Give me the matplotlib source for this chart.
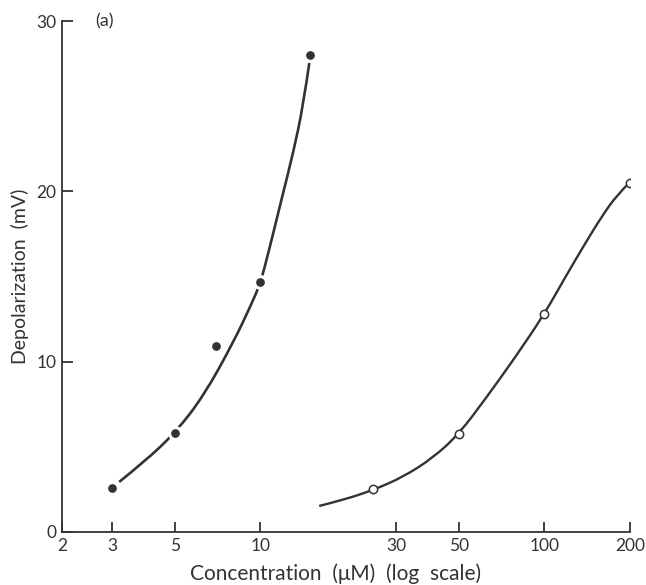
import matplotlib
matplotlib.use("Agg")
import matplotlib.pyplot as plt
from matplotlib.path import Path
from matplotlib.patches import PathPatch
import numpy as np

# Measured points: filled and open circles
filled_conc = [3, 5, 7, 10, 15]
filled_mv = [2.6, 5.8, 10.9, 14.7, 28.0]
open_conc = [25, 50, 100, 200]
open_mv = [2.5, 5.75, 12.8, 20.5]

# Hand-drawn fitted curves, traced along their length
filled_curve_conc = [3.18, 3.89, 5.0, 6.31, 8.04, 9.30, 10.0, 10.75, 11.85, 13.06, 14.15, 14.86]
filled_curve_mv = [2.94, 4.11, 5.81, 7.99, 11.16, 13.39, 14.62, 16.62, 19.5, 22.31, 25.07, 27.54]
open_curve_conc = [16.1, 19.55, 25.0, 31.8, 40.5, 50, 63.1, 79.1, 100, 117.5, 138.1, 159.7, 180.3, 198.8]
open_curve_mv = [1.53, 1.88, 2.47, 3.23, 4.35, 5.75, 7.99, 10.28, 12.8, 14.86, 16.85, 18.56, 19.79, 20.49]

x_ticks = [2, 3, 5, 10, 30, 50, 100, 200]
x_tick_labels = ["2", "3", "5", "10", "30", "50", "100", "200"]
y_ticks = [0, 10, 20, 30]

ink = "#333333"
plt.rcParams["font.family"] = ["Lato", "DejaVu Sans"]


def smooth_path(xs, ys):
    """Quadratic B-spline path through traced knots (log x, linear y)."""
    verts = [(xs[0], ys[0])]
    codes = [Path.MOVETO]
    for i in range(1, len(xs) - 1):
        if i < len(xs) - 2:
            end = (np.sqrt(xs[i] * xs[i + 1]), (ys[i] + ys[i + 1]) / 2)
        else:
            end = (xs[-1], ys[-1])
        verts += [(xs[i], ys[i]), end]
        codes += [Path.CURVE3, Path.CURVE3]
    return Path(verts, codes)


fig = plt.figure(figsize=(6.46, 5.85), dpi=100)
ax = fig.add_axes([0.096, 0.0906, 0.879, 0.8734])
ax.set_xscale("log")
ax.set_xlim(2, 200)
ax.set_ylim(0, 30)

# Curves first, markers on top with a white rim so the line breaks around them
ax.add_patch(PathPatch(smooth_path(filled_curve_conc, filled_curve_mv), facecolor="none",
                       edgecolor=ink, linewidth=1.9, capstyle="butt"))
ax.add_patch(PathPatch(smooth_path(open_curve_conc, open_curve_mv), facecolor="none",
                       edgecolor=ink, linewidth=1.7, capstyle="butt"))
ax.plot(filled_conc, filled_mv, linestyle="none", marker="o", markersize=8.5,
        markerfacecolor=ink, markeredgecolor="white", markeredgewidth=2.2, zorder=3)
ax.plot(open_conc, open_mv, linestyle="none", marker="o", markersize=6,
        markerfacecolor="white", markeredgecolor=ink, markeredgewidth=1.1, zorder=3)

ax.set_xticks(x_ticks)
ax.set_xticklabels(x_tick_labels)
ax.xaxis.set_minor_locator(matplotlib.ticker.NullLocator())
ax.set_yticks(y_ticks)

for side in ["top", "right"]:
    ax.spines[side].set_visible(False)
for side in ["left", "bottom"]:
    ax.spines[side].set_color(ink)
    ax.spines[side].set_linewidth(1.3)

ax.tick_params(axis="x", direction="in", length=7, width=1.3, color=ink,
               labelsize=12.5, labelcolor=ink, pad=4)
ax.tick_params(axis="y", direction="in", length=8, width=1.3, color=ink,
               labelsize=12.5, labelcolor=ink, pad=4)

ax.set_xlabel("Concentration  (\u03bcM)  (log  scale)", fontsize=15, color=ink,
              labelpad=7, x=0.482)
ax.set_ylabel("Depolarization  (mV)", fontsize=14, color=ink, labelpad=5)
ax.text(0.058, 1.0, "(a)", transform=ax.transAxes, fontsize=13, color=ink,
        va="center", ha="left")

fig.savefig("out.png", dpi=100)
